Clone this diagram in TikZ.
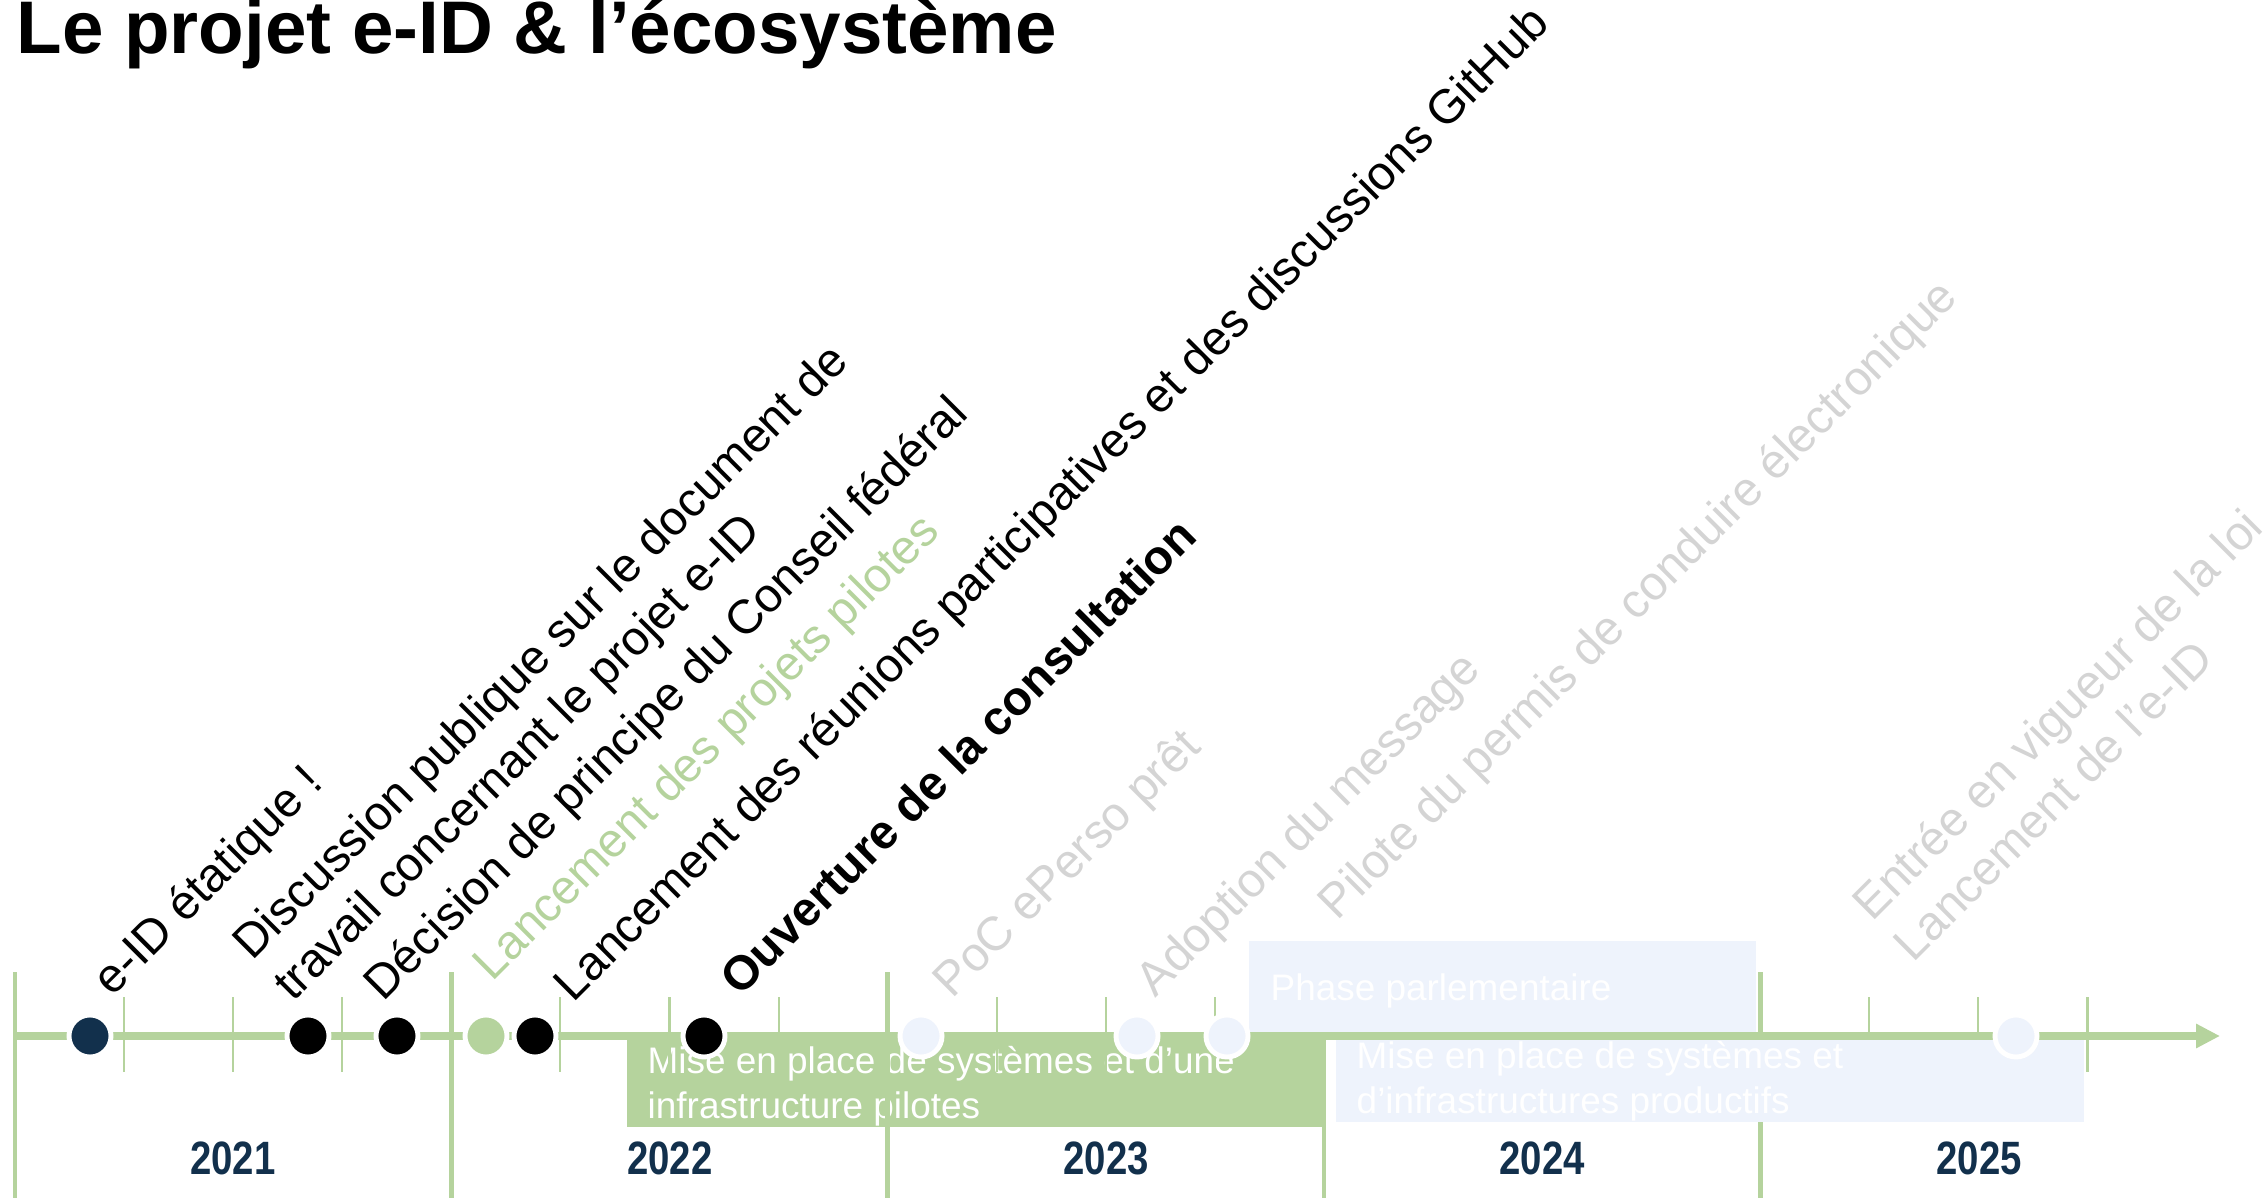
\documentclass[tikz,border=0pt]{standalone}
\usepackage{fontspec}
\setmainfont{Liberation Sans}
\newfontfamily\yearfont[FakeStretch=0.82]{Liberation Sans}
\usetikzlibrary{arrows.meta}

\definecolor{idgreen}{RGB}{181,211,157}
\definecolor{idnavy}{RGB}{18,48,76}
\definecolor{idpale}{RGB}{238,243,252}
\definecolor{idgray}{RGB}{212,212,212}

\tikzset{
  dot/.style={circle, draw=white, line width=1.4pt, minimum size=4.2mm, inner sep=0pt},
  milestone/.style={rotate=45, anchor=base west, inner sep=0pt, align=left,
    font=\fontsize{13.6}{16.5}\selectfont},
  future/.style={milestone, text=idgray},
  boxtext/.style={anchor=base west, inner sep=0pt, align=left, text=white,
    font=\fontsize{10.5}{12.6}\selectfont},
  yearlabel/.style={anchor=base, inner sep=0pt, text=idnavy,
    font=\yearfont\bfseries\fontsize{13.3}{15}\selectfont},
  divider/.style={idgreen, line width=1.3pt},
  tick/.style={idgreen, line width=0.6pt}
}

\begin{document}
\begin{tikzpicture}[x=0.01cm, y=-0.01cm]
    \useasboundingbox (0,0) rectangle (2264,1198);

    \node [anchor=base west, inner sep=0pt,
    font=\bfseries\fontsize{21.2}{25}\selectfont] (title) at (16,54)
    {Le projet e-ID \& l’écosystème};

    % pilot phase, under the ticks
    \fill [idgreen] (627,1040) rectangle (1324,1127);
    \node [boxtext] (pilotTxt) at (647,1118)
    {Mise en place de systèmes et d’une\\infrastructure pilotes};

    % years and quarters
    \foreach \yr in {0,...,4} {
      \draw [divider] ({15+436.3*\yr},972) -- ({15+436.3*\yr},1198);
      \foreach \q in {1,2,3}
        \draw [tick] ({15+436.3*\yr+109.1*\q},997) -- ++(0,75);
    }

    \node [yearlabel] (y2021) at (233,1174) {2021};
    \node [yearlabel] (y2022) at (670,1174) {2022};
    \node [yearlabel] (y2023) at (1106,1174) {2023};
    \node [yearlabel] (y2024) at (1542,1174) {2024};
    \node [yearlabel] (y2025) at (1979,1174) {2025};

    % later phases
    \fill [idpale] (1249,941) rectangle (1756,1032);
    \node [boxtext] (parlTxt) at (1270,1000) {Phase parlementaire};

    \fill [idpale] (1336,1040) rectangle (2084,1122);
    \node [boxtext] (prodTxt) at (1356,1113)
    {Mise en place de systèmes et\\d’infrastructures productifs};

    \coordinate (axisL) at (15,1036);
    \coordinate (axisR) at (2220,1036);
    \draw [idgreen, line width=2.3pt,
    -{Triangle[length=2.4mm,width=2.3mm]}] (axisL) -- (axisR);

    % events
    \node [dot, fill=idnavy] (eid) at (90,1036) {};
    \node [dot, fill=black] (discussion) at (308,1036) {};
    \node [dot, fill=black] (decision) at (397,1036) {};
    \node [dot, fill=idgreen] (pilotes) at (486,1036) {};
    \node [dot, fill=black] (reunions) at (535,1036) {};
    \node [dot, fill=black] (consult) at (704,1036) {};
    \node [dot, fill=idpale] (poc) at (921,1036) {};
    \node [dot, fill=idpale] (message) at (1137,1036) {};
    \node [dot, fill=idpale] (permis) at (1227,1036) {};
    \node [dot, fill=idpale] (loi) at (2016,1036) {};

    \node [milestone] (eidLbl) at (112,998) {e-ID étatique !};
    \node [milestone] (discussionLbl) at (293,1003)
    {Discussion publique sur le document de\\travail concernant le projet e-ID};
    \node [milestone] (decisionLbl) at (383,1003)
    {Décision de principe du Conseil fédéral};
    \node [milestone, text=idgreen] (pilotesLbl) at (492,983)
    {Lancement des projets pilotes};
    \node [milestone] (reunionsLbl) at (573,1004)
    {Lancement des réunions participatives et des discussions GitHub};
    \node [milestone, font=\bfseries\fontsize{13.6}{16.5}\selectfont]
    (consultLbl) at (740,998) {Ouverture de la consultation};

    \node [future] (pocLbl) at (952,1000) {PoC ePerso prêt};
    \node [future] (messageLbl) at (1155,999) {Adoption du message};
    \node [future] (permisLbl) at (1337,922)
    {Pilote du permis de conduire électronique};
    \node [future] (loiLbl) at (1913,964)
    {Entrée en vigueur de la loi\\Lancement de l’e-ID};
  \end{tikzpicture}
\end{document}
